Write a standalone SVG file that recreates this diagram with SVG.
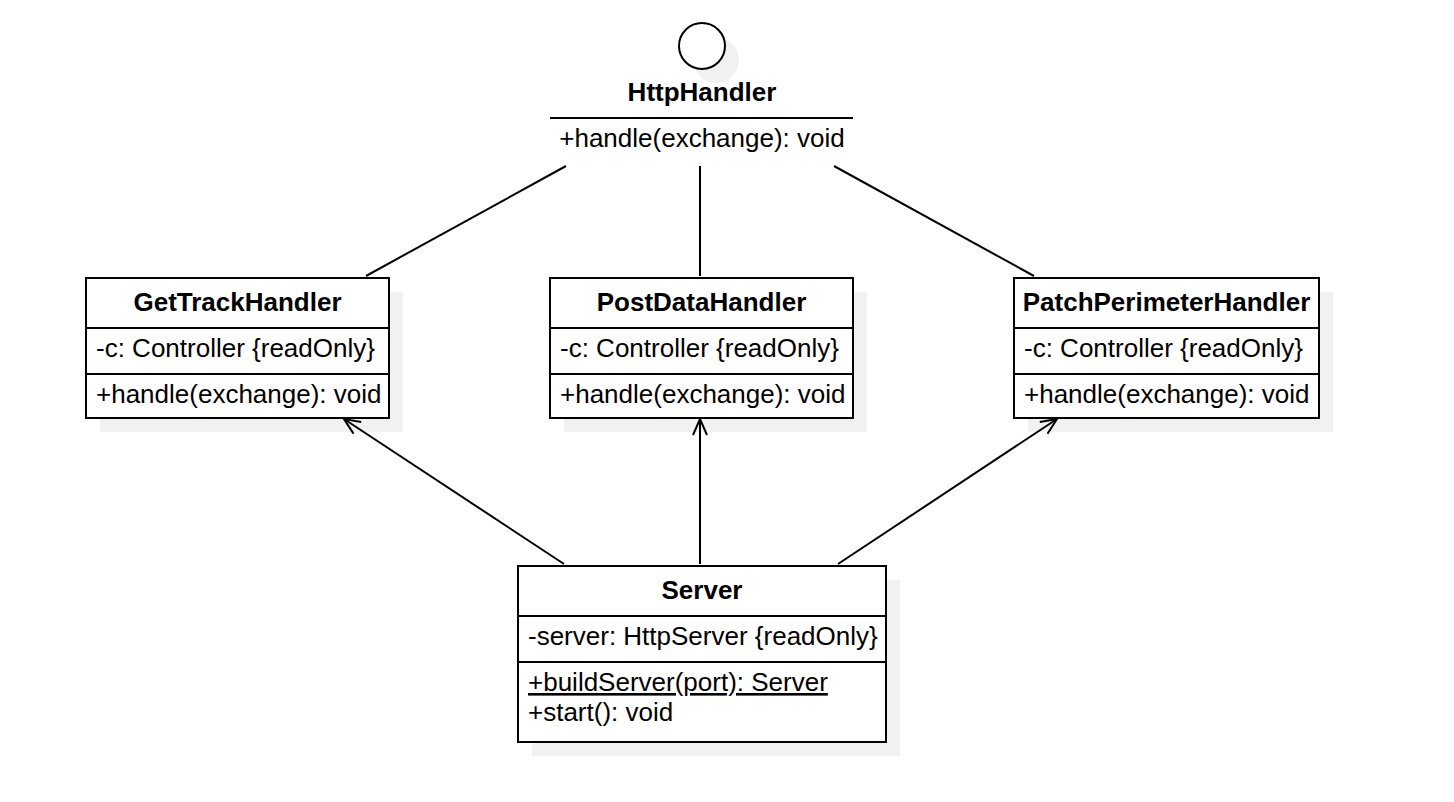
<svg xmlns="http://www.w3.org/2000/svg" width="1454" height="802" viewBox="0 0 1454 802">
<style>
text{font-family:"Liberation Sans",Arial,sans-serif;font-size:26px;fill:#000}
.t{font-weight:bold;text-anchor:middle}
.box{fill:#fff;stroke:#000;stroke-width:2}
.sh{fill:#f1f1f1}
.ln{stroke:#000;stroke-width:2;fill:none}
</style>
<defs>
<marker id="open" viewBox="0 0 20 20" refX="18" refY="10" markerWidth="20" markerHeight="20" markerUnits="userSpaceOnUse" orient="auto">
<path d="M2,3 L18,10 L2,17" fill="none" stroke="#000" stroke-width="2"/>
</marker>
</defs>
<rect width="1454" height="802" fill="#fff"/>
<g id="HttpHandler">
<circle cx="716" cy="60" r="23" class="sh"/>
<circle cx="702" cy="46" r="23" class="box"/>
<text x="702" y="101" class="t">HttpHandler</text>
<line x1="550" y1="118" x2="853" y2="118" class="ln"/>
<text x="702" y="147" text-anchor="middle">+handle(exchange): void</text>
</g>
<g id="GetTrackHandler">
<rect x="100" y="292" width="303" height="140" class="sh"/>
<rect x="86" y="278" width="303" height="140" class="box"/>
<line x1="86" y1="328" x2="389" y2="328" class="ln"/>
<line x1="86" y1="374" x2="389" y2="374" class="ln"/>
<text x="237.5" y="311" class="t">GetTrackHandler</text>
<text x="96" y="357">-c: Controller {readOnly}</text>
<text x="96" y="403">+handle(exchange): void</text>
</g>
<g id="PostDataHandler">
<rect x="564" y="292" width="303" height="140" class="sh"/>
<rect x="550" y="278" width="303" height="140" class="box"/>
<line x1="550" y1="328" x2="853" y2="328" class="ln"/>
<line x1="550" y1="374" x2="853" y2="374" class="ln"/>
<text x="701.5" y="311" class="t">PostDataHandler</text>
<text x="560" y="357">-c: Controller {readOnly}</text>
<text x="560" y="403">+handle(exchange): void</text>
</g>
<g id="PatchPerimeterHandler">
<rect x="1028" y="292" width="305" height="140" class="sh"/>
<rect x="1014" y="278" width="305" height="140" class="box"/>
<line x1="1014" y1="328" x2="1319" y2="328" class="ln"/>
<line x1="1014" y1="374" x2="1319" y2="374" class="ln"/>
<text x="1166.5" y="311" class="t">PatchPerimeterHandler</text>
<text x="1024" y="357">-c: Controller {readOnly}</text>
<text x="1024" y="403">+handle(exchange): void</text>
</g>
<g id="Server">
<rect x="532" y="580" width="368" height="176" class="sh"/>
<rect x="518" y="566" width="368" height="176" class="box"/>
<line x1="518" y1="616" x2="886" y2="616" class="ln"/>
<line x1="518" y1="662" x2="886" y2="662" class="ln"/>
<text x="702" y="599" class="t">Server</text>
<text x="528" y="645">-server: HttpServer {readOnly}</text>
<text x="528" y="691" text-decoration="underline">+buildServer(port): Server</text>
<text x="528" y="721">+start(): void</text>
</g>
<g id="connectors">
<line x1="566" y1="166" x2="366" y2="276" class="ln"/>
<line x1="700" y1="166" x2="700" y2="276" class="ln"/>
<line x1="834" y1="166" x2="1034" y2="276" class="ln"/>
<line x1="564" y1="564" x2="344" y2="419" class="ln" marker-end="url(#open)"/>
<line x1="700" y1="564" x2="700" y2="419" class="ln" marker-end="url(#open)"/>
<line x1="838" y1="564" x2="1057" y2="419" class="ln" marker-end="url(#open)"/>
</g>
</svg>
